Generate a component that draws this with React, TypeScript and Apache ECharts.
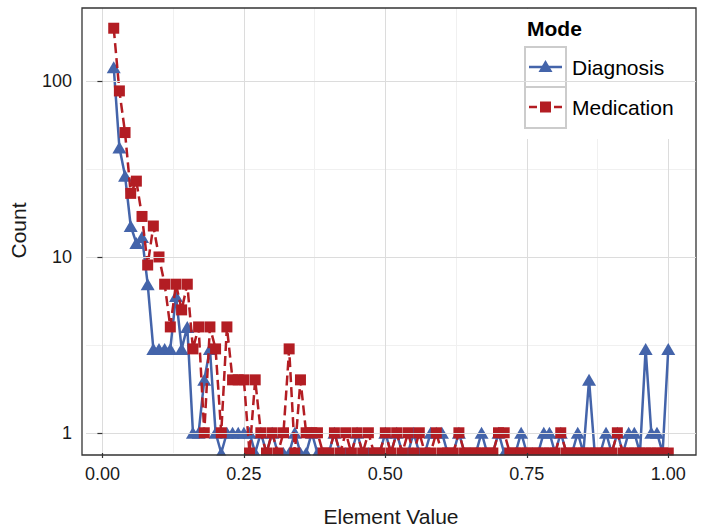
import React, { useEffect, useRef } from "react";
import * as echarts from "echarts";

// ---- data ----
const elementValues = [
  0.02, 0.03, 0.04, 0.05, 0.06, 0.07, 0.08, 0.09, 0.1, 0.11,
  0.12, 0.13, 0.14, 0.15, 0.16, 0.17, 0.18, 0.19, 0.2, 0.21,
  0.22, 0.23, 0.24, 0.25, 0.26, 0.27, 0.28, 0.29, 0.3, 0.31,
  0.32, 0.33, 0.34, 0.35, 0.36, 0.37, 0.38, 0.39, 0.4, 0.41,
  0.42, 0.43, 0.44, 0.45, 0.46, 0.47, 0.48, 0.49, 0.5, 0.51,
  0.52, 0.53, 0.54, 0.55, 0.56, 0.57, 0.58, 0.59, 0.6, 0.61,
  0.62, 0.63, 0.64, 0.65, 0.66, 0.67, 0.68, 0.69, 0.7, 0.71,
  0.72, 0.73, 0.74, 0.75, 0.76, 0.77, 0.78, 0.79, 0.8, 0.81,
  0.82, 0.83, 0.84, 0.85, 0.86, 0.87, 0.88, 0.89, 0.9, 0.91,
  0.92, 0.93, 0.94, 0.95, 0.96, 0.97, 0.98, 0.99, 1.0,
];

const diagnosisCounts = [
  120, 42, 29, 15, 12, 13, 7, 3, 3, 3,
  3, 6, 3, 4, 1, 1, 2, 3, 1, 0,
  1, 1, 1, 1, 1, 0, 1, 0, 1, 0,
  0, 0, 1, 0, 0, 1, 0, 0, 0, 1,
  0, 0, 0, 1, 0, 0, 0, 0, 1, 0,
  1, 0, 0, 1, 0, 0, 1, 1, 1, 0,
  0, 1, 0, 0, 0, 1, 0, 0, 1, 0,
  0, 0, 1, 0, 0, 0, 1, 1, 0, 1,
  0, 0, 1, 0, 2, 0, 0, 1, 0, 1,
  0, 1, 1, 0, 3, 1, 1, 0, 3,
];

const medicationCounts = [
  200, 88, 51, 23, 27, 17, 9, 15, 10, 7,
  4, 7, 5, 7, 3, 4, 1, 4, 3, 1,
  4, 2, 2, 2, 0, 2, 1, 0, 1, 0,
  1, 3, 0, 2, 1, 1, 1, 0, 0, 1,
  0, 1, 0, 1, 0, 1, 0, 0, 1, 0,
  1, 0, 1, 0, 1, 0, 0, 1, 0, 0,
  0, 1, 0, 0, 0, 0, 0, 0, 1, 1,
  0, 0, 0, 0, 0, 0, 0, 0, 0, 1,
  0, 0, 0, 0, 0, 0, 0, 0, 0, 1,
  0, 0, 0, 0, 0, 0, 0, 0, 0,
];

const seriesNames = ["Diagnosis", "Medication"];
const legendTitle = "Mode";
const xTicks = [0, 0.25, 0.5, 0.75, 1];
const xMinorTicks = [0.125, 0.375, 0.625, 0.875];
const yTicks = [1, 10, 100];
const yMinorTicks = [3.1623, 31.623];
const xTitle = "Element Value";
const yTitle = "Count";

// ---- styles ----
const BLUE = "#4464AA";
const RED = "#B31D23";
const FONT = "'Liberation Sans', Arial, Helvetica, sans-serif";
const TEXT = "#1a1a1a";
const GRID_MAJOR = "#dcdcdc";
const GRID_MINOR = "#f0f0f0";
const LINE_W = 2.5;

// ggplot-like 5% expansion
const xLo = Math.min(...elementValues);
const xHi = Math.max(...elementValues);
const X_MIN = xLo - 0.05 * (xHi - xLo);
const X_MAX = xHi + 0.05 * (xHi - xLo);
const logMax = Math.log10(Math.max(...diagnosisCounts, ...medicationCounts));
const Y_MIN = Math.pow(10, -0.05 * logMax);
const Y_MAX = Math.pow(10, 1.05 * logMax);

const PANEL = { left: 82, top: 8, width: 614, height: 447 };

export default function App() {
  const ref = useRef<HTMLDivElement>(null);

  useEffect(() => {
    if (!ref.current) return;
    const chart = echarts.init(ref.current, undefined, { renderer: "svg" });

    const toPoints = (counts: number[]) =>
      elementValues.map((x, i) => [x, counts[i] > 0 ? counts[i] : Y_MIN]);

    const hiddenAxisBase = {
      axisLine: { show: false },
      axisLabel: { show: false },
    };

    const L = { x: 517, y: 9 };

    const option: any = {
      animation: false,
      backgroundColor: "#ffffff",
      grid: {
        left: PANEL.left,
        top: PANEL.top,
        width: PANEL.width,
        height: PANEL.height,
        containLabel: false,
      },
      xAxis: [
        {
          type: "value",
          min: X_MIN,
          max: X_MAX,
          position: "bottom",
          ...hiddenAxisBase,
          axisTick: { show: false, customValues: xTicks },
          splitLine: { show: true, lineStyle: { color: GRID_MAJOR, width: 1 } },
          z: 0,
        },
        {
          type: "value",
          min: X_MIN,
          max: X_MAX,
          position: "bottom",
          ...hiddenAxisBase,
          axisTick: { show: false, customValues: xMinorTicks },
          splitLine: { show: true, lineStyle: { color: GRID_MINOR, width: 1 } },
          z: 0,
        },
        {
          type: "value",
          min: X_MIN,
          max: X_MAX,
          position: "bottom",
          axisLine: { show: false },
          axisTick: {
            show: true,
            length: 5,
            customValues: xTicks,
            lineStyle: { color: "#333", width: 1.2 },
          },
          axisLabel: {
            show: true,
            customValues: xTicks,
            formatter: (v: number) => v.toFixed(2),
            fontSize: 18,
            fontFamily: FONT,
            color: TEXT,
            margin: 12,
          },
          splitLine: { show: false },
          name: xTitle,
          nameLocation: "middle",
          nameGap: 53,
          nameTextStyle: { fontSize: 21, fontFamily: FONT, color: TEXT },
          z: 70,
        },
      ],
      yAxis: [
        {
          type: "log",
          logBase: 10,
          min: Y_MIN,
          max: Y_MAX,
          axisLine: { show: false },
          axisTick: {
            show: true,
            length: 5,
            customValues: yTicks,
            lineStyle: { color: "#333", width: 1.2 },
          },
          axisLabel: {
            show: true,
            customValues: yTicks,
            formatter: (v: number) => String(Math.round(v)),
            fontSize: 18,
            fontFamily: FONT,
            color: TEXT,
            margin: 14,
          },
          splitLine: { show: true, lineStyle: { color: GRID_MAJOR, width: 1 } },
          minorTick: { show: false },
          minorSplitLine: { show: false },
          name: yTitle,
          nameLocation: "middle",
          nameRotate: 90,
          nameGap: 57,
          nameTextStyle: { fontSize: 21, fontFamily: FONT, color: TEXT },
          z: 70,
        },
        {
          type: "log",
          logBase: 10,
          min: Y_MIN,
          max: Y_MAX,
          ...hiddenAxisBase,
          axisTick: { show: false, customValues: yMinorTicks },
          splitLine: { show: true, lineStyle: { color: GRID_MINOR, width: 1 } },
          minorTick: { show: false },
          minorSplitLine: { show: false },
          z: 0,
        },
      ],
      series: [
        {
          name: seriesNames[0],
          type: "line",
          xAxisIndex: 0,
          yAxisIndex: 0,
          data: toPoints(diagnosisCounts),
          symbol: "triangle",
          symbolSize: [14, 12],
          showAllSymbol: true,
          lineStyle: { color: BLUE, width: LINE_W },
          itemStyle: { color: BLUE },
          clip: false,
          z: 2,
        },
        {
          name: seriesNames[1],
          type: "line",
          xAxisIndex: 0,
          yAxisIndex: 0,
          data: toPoints(medicationCounts),
          symbol: "rect",
          symbolSize: 11,
          showAllSymbol: true,
          lineStyle: { color: RED, width: LINE_W, type: [10, 5] },
          itemStyle: { color: RED },
          clip: false,
          z: 3,
        },
      ],
      graphic: [
        // mask for markers extending below the panel
        {
          type: "rect",
          shape: { x: PANEL.left - 2, y: PANEL.top + PANEL.height + 0.5, width: PANEL.width + 4, height: 9 },
          style: { fill: "#ffffff" },
          z: 50,
          silent: true,
        },
        // legend background
        {
          type: "rect",
          shape: { x: L.x, y: L.y, width: 178, height: 130 },
          style: { fill: "#ffffff" },
          z: 52,
        },
        {
          type: "text",
          x: L.x + 10,
          y: L.y + 19,
          style: {
            text: legendTitle,
            fill: "#000",
            fontSize: 21,
            fontWeight: "bold",
            fontFamily: FONT,
            verticalAlign: "middle",
          },
          z: 61,
        },
        {
          type: "rect",
          shape: { x: L.x + 8, y: L.y + 38, width: 41, height: 40 },
          style: { fill: "#fff", stroke: "#cccccc", lineWidth: 2 },
          z: 53,
        },
        {
          type: "rect",
          shape: { x: L.x + 8, y: L.y + 78, width: 41, height: 41 },
          style: { fill: "#fff", stroke: "#cccccc", lineWidth: 2 },
          z: 53,
        },
        {
          type: "line",
          shape: { x1: L.x + 12, y1: L.y + 58, x2: L.x + 45, y2: L.y + 58 },
          style: { stroke: BLUE, lineWidth: LINE_W },
          z: 54,
        },
        {
          type: "polygon",
          shape: {
            points: [
              [L.x + 28.5, L.y + 51],
              [L.x + 35.5, L.y + 63],
              [L.x + 21.5, L.y + 63],
            ],
          },
          style: { fill: BLUE },
          z: 55,
        },
        {
          type: "line",
          shape: { x1: L.x + 12, y1: L.y + 98, x2: L.x + 20, y2: L.y + 98 },
          style: { stroke: RED, lineWidth: LINE_W },
          z: 54,
        },
        {
          type: "line",
          shape: { x1: L.x + 37, y1: L.y + 98, x2: L.x + 45, y2: L.y + 98 },
          style: { stroke: RED, lineWidth: LINE_W },
          z: 54,
        },
        {
          type: "rect",
          shape: { x: L.x + 23, y: L.y + 92.5, width: 11, height: 11 },
          style: { fill: RED },
          z: 55,
        },
        {
          type: "text",
          x: L.x + 55,
          y: L.y + 58,
          style: {
            text: seriesNames[0],
            fill: "#000",
            fontSize: 21,
            fontFamily: FONT,
            verticalAlign: "middle",
          },
          z: 61,
        },
        {
          type: "text",
          x: L.x + 55,
          y: L.y + 98,
          style: {
            text: seriesNames[1],
            fill: "#000",
            fontSize: 21,
            fontFamily: FONT,
            verticalAlign: "middle",
          },
          z: 61,
        },
        // panel border
        {
          type: "rect",
          shape: { x: PANEL.left, y: PANEL.top, width: PANEL.width, height: PANEL.height },
          style: { fill: "none", stroke: "#333333", lineWidth: 1.3 },
          z: 60,
          silent: true,
        },
      ],
    };

    chart.setOption(option);
    return () => chart.dispose();
  }, []);

  return (
    <div
      ref={ref}
      style={{ position: "fixed", left: 0, top: 0, width: 704, height: 532, background: "#fff" }}
    />
  );
}
